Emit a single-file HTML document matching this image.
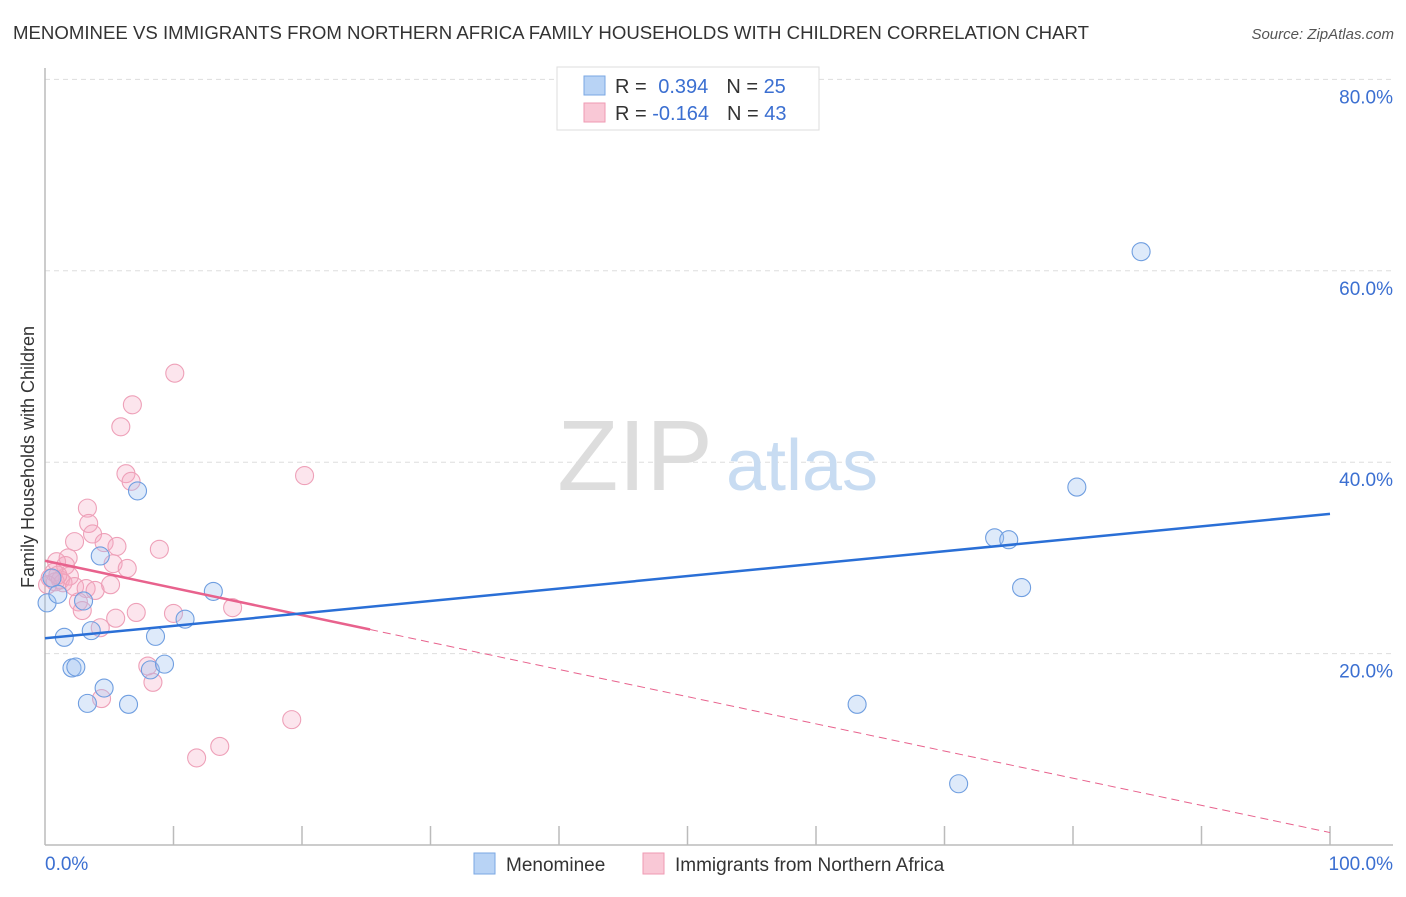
<!DOCTYPE html>
<html><head><meta charset="utf-8"><style>
body{margin:0;background:#fff;font-family:"Liberation Sans",sans-serif;}
svg text{font-family:"Liberation Sans",sans-serif;}
</style></head><body>
<svg id="chart" width="1406" height="892" xmlns="http://www.w3.org/2000/svg">
<text x="13" y="39" font-size="18" fill="#333" textLength="1076" lengthAdjust="spacingAndGlyphs">MENOMINEE VS IMMIGRANTS FROM NORTHERN AFRICA FAMILY HOUSEHOLDS WITH CHILDREN CORRELATION CHART</text>
<text x="1394" y="39" font-size="15" fill="#555" text-anchor="end" font-style="italic">Source: ZipAtlas.com</text>
<g id="grid"></g>
<g>
<text x="635" y="490" font-size="100" fill="#ddd" font-family="Liberation Serif" text-anchor="middle">ZIP</text>
<text x="802" y="490" font-size="72" fill="#c8dcf2" text-anchor="middle">atlas</text>
</g>
<text transform="translate(34,457) rotate(-90)" font-size="18" fill="#333" text-anchor="middle">Family Households with Children</text>
<g id="axes"></g>
<g id="marks"></g>
<g>
<rect x="557" y="67" width="262" height="63" fill="#fff" stroke="#ddd"/>
<rect x="584" y="76" width="21" height="19" fill="#b8d3f5" stroke="#7aa7e3"/>
<rect x="584" y="103" width="21" height="19" fill="#f9c8d6" stroke="#ef9ab3"/>
<text x="615" y="93" font-size="20" fill="#333">R = <tspan fill="#3b6fd1" dx="6">0.394</tspan><tspan fill="#333" dx="18">N = </tspan><tspan fill="#3b6fd1">25</tspan></text>
<text x="615" y="120" font-size="20" fill="#333">R = <tspan fill="#3b6fd1">-0.164</tspan><tspan fill="#333" dx="18">N = </tspan><tspan fill="#3b6fd1">43</tspan></text>
</g>
<g>
<rect x="474" y="853" width="21" height="21" fill="#b8d3f5" stroke="#7aa7e3"/>
<text x="506" y="871" font-size="19" fill="#333">Menominee</text>
<rect x="643" y="853" width="21" height="21" fill="#f9c8d6" stroke="#ef9ab3"/>
<text x="675" y="871" font-size="19" fill="#333">Immigrants from Northern Africa</text>
</g>
</svg>
<script>
const yTicks=[20,40,60,80];
const yTickLabels=["20.0%","40.0%","60.0%","80.0%"];
const xTickLabels=["0.0%","100.0%"];
const blueX=[0.16,0.54,1.0,1.5,2.1,2.4,3.0,3.3,3.6,4.3,4.6,6.5,7.2,8.2,8.6,9.3,10.9,13.1,63.2,71.1,73.9,75.0,76.0,80.3,85.3];
const blueY=[25.3,27.9,26.2,21.7,18.5,18.6,25.5,14.8,22.4,30.2,16.4,14.7,37.0,18.3,21.8,18.9,23.6,26.5,14.7,6.4,32.1,31.9,26.9,37.4,62.0];
const pinkX=[10.1,6.8,5.9,6.3,6.7,20.2,3.3,3.4,3.7,2.3,4.6,5.6,8.9,1.8,0.9,5.3,6.4,1.6,0.7,0.4,1.2,1.9,1.4,2.3,3.2,3.9,5.1,2.6,2.9,7.1,10.0,14.6,5.5,4.3,8.0,8.4,4.4,19.2,13.6,11.8,0.8,0.2,1.0];
const pinkY=[49.3,46.0,43.7,38.8,38.0,38.6,35.2,33.6,32.5,31.7,31.6,31.2,30.9,30.0,29.6,29.4,28.9,29.2,28.5,27.9,27.7,28.1,27.4,27.0,26.8,26.6,27.2,25.4,24.5,24.3,24.2,24.8,23.7,22.7,18.7,17.0,15.3,13.1,10.3,9.1,27.5,27.2,28.2];
const blueTrend=[21.6,34.6];
const pinkTrend=[29.7,1.3];
const pinkSolidEnd=25.3;

const X=v=>45+v*12.85;
const Y=v=>845-v*9.57;
const NS="http://www.w3.org/2000/svg";
function mk(parent,tag,attrs){const e=document.createElementNS(NS,tag);for(const k in attrs)e.setAttribute(k,attrs[k]);document.getElementById(parent).appendChild(e);return e;}

yTicks.forEach((t,i)=>{
  const g=mk('grid','line',{x1:45,x2:1393,y1:Y(t),y2:Y(t),stroke:'#ddd','stroke-dasharray':'5,4'});
  
  
  const l=mk('axes','text',{x:1393,y:Y(t)+24,'font-size':19,fill:'#3b6fd1','text-anchor':'end'});
  l.textContent=yTickLabels[i];
  
  
});
let a=mk('axes','line',{x1:45,x2:45,y1:68,y2:845,stroke:'#bbb','stroke-width':1.5});


a=mk('axes','line',{x1:45,x2:1393,y1:845,y2:845,stroke:'#bbb','stroke-width':1.5});


for(let i=1;i<=10;i++){
  const t=mk('axes','line',{x1:X(i*10),x2:X(i*10),y1:826,y2:845,stroke:'#bbb','stroke-width':1.5});
  
  
}
let xl=mk('axes','text',{x:45,y:870,'font-size':19,fill:'#3b6fd1'});
xl.textContent=xTickLabels[0];


xl=mk('axes','text',{x:1393,y:870,'font-size':19,fill:'#3b6fd1','text-anchor':'end'});
xl.textContent=xTickLabels[1];



pinkX.forEach((x,i)=>{
  const c=mk('marks','circle',{cx:X(x),cy:Y(pinkY[i]),r:9,fill:'rgba(246,170,195,0.3)',stroke:'#eea0b8','stroke-width':1.1});
  
  
});
blueX.forEach((x,i)=>{
  const c=mk('marks','circle',{cx:X(x),cy:Y(blueY[i]),r:9,fill:'rgba(160,196,240,0.35)',stroke:'#6f9ee0','stroke-width':1.1});
  
  
});
const pAt=v=>pinkTrend[0]+(pinkTrend[1]-pinkTrend[0])*v/100;
let t=mk('marks','line',{x1:X(pinkSolidEnd),y1:Y(pAt(pinkSolidEnd)),x2:X(100),y2:Y(pinkTrend[1]),stroke:'#e8628d','stroke-width':1,'stroke-dasharray':'8,5'});


t=mk('marks','line',{x1:X(0),y1:Y(pinkTrend[0]),x2:X(pinkSolidEnd),y2:Y(pAt(pinkSolidEnd)),stroke:'#e8628d','stroke-width':2.5});


t=mk('marks','line',{x1:X(0),y1:Y(blueTrend[0]),x2:X(100),y2:Y(blueTrend[1]),stroke:'#2a6fd6','stroke-width':2.5});


</script>
</body></html>
